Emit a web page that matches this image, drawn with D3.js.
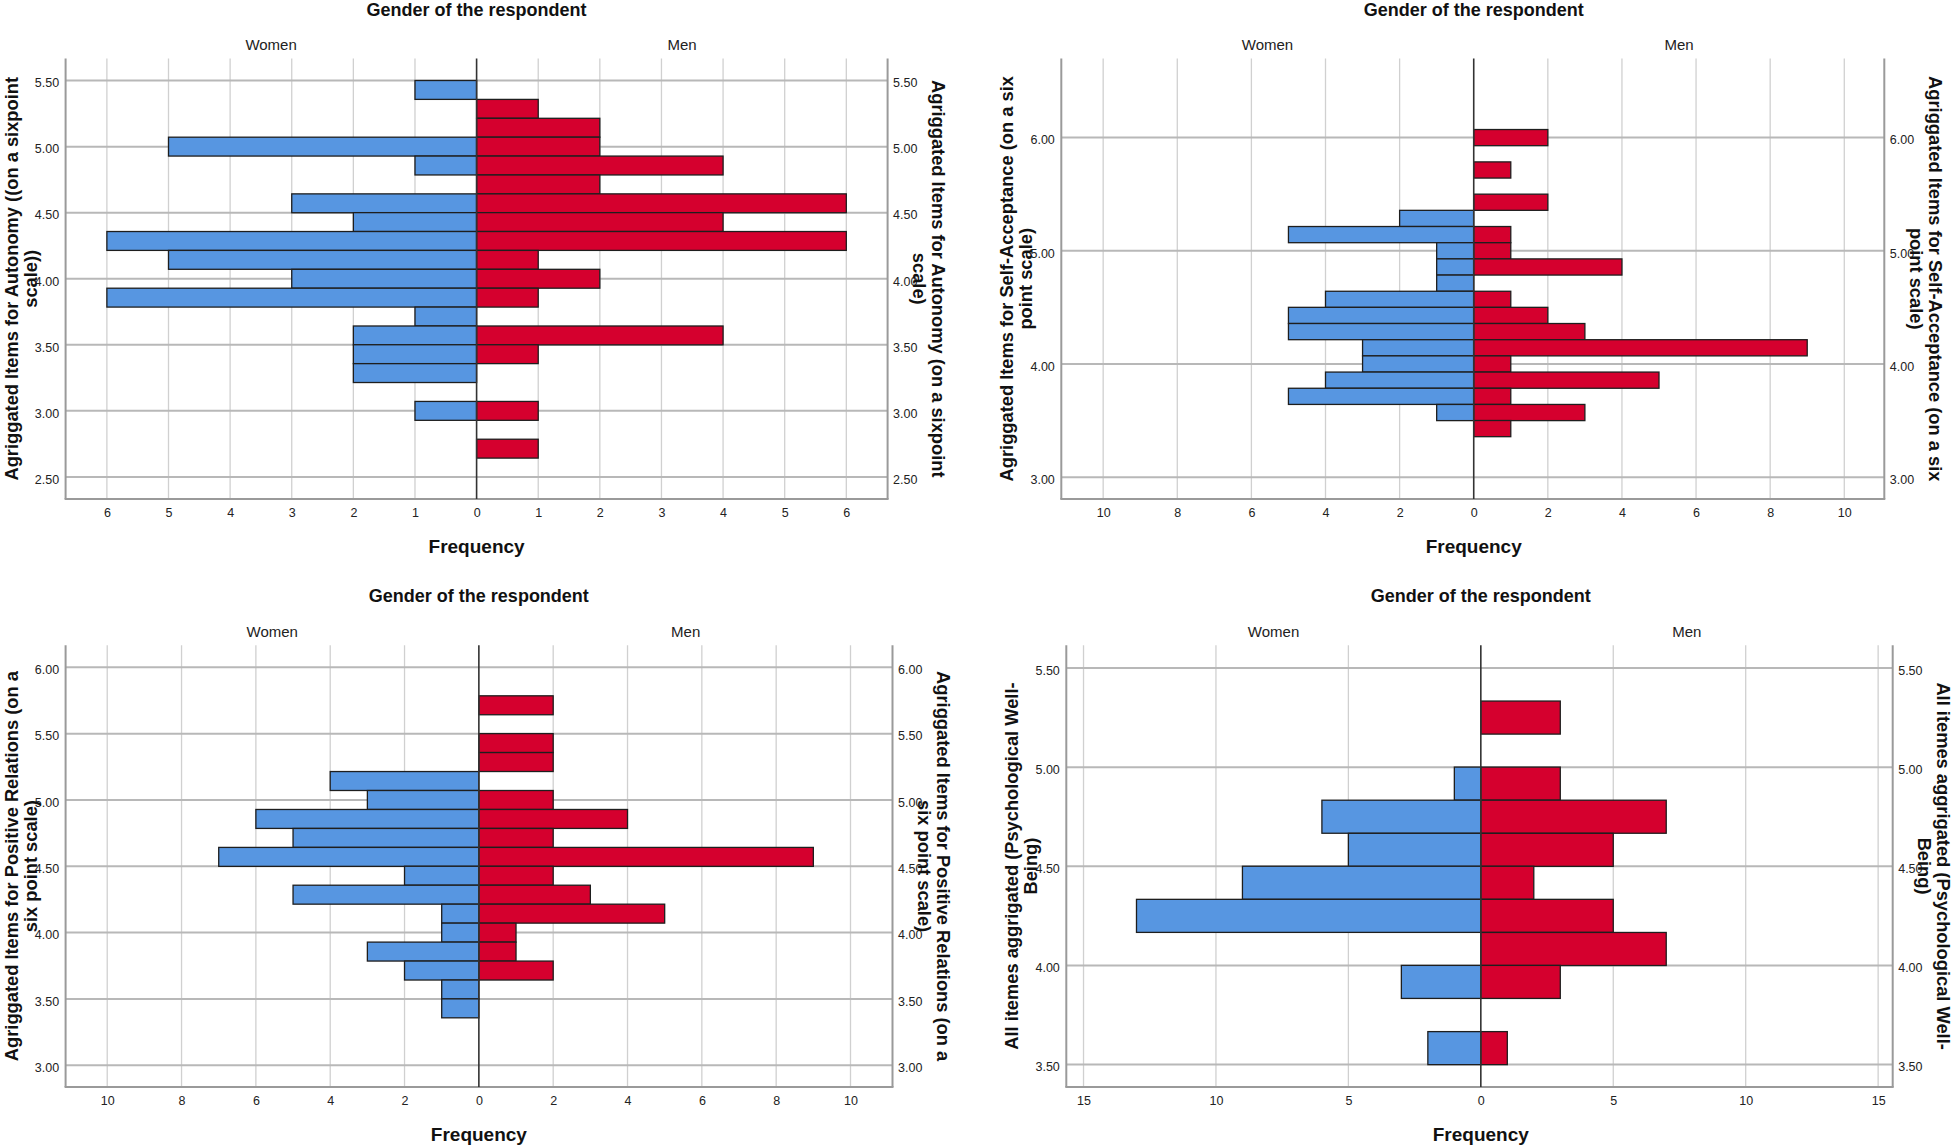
<!DOCTYPE html>
<html>
<head>
<meta charset="utf-8">
<script src="https://cdn.jsdelivr.net/npm/d3@7"></script>
<style>
  html, body { margin: 0; padding: 0; background: #fff; }
  svg { display: block; }
  text { font-family: "Liberation Sans", Arial, Helvetica, sans-serif; }
</style>
</head>
<body>
<svg id="chart" width="1959" height="1148"></svg>
<script>
// ---------------- DATA ----------------
const groupTitle = "Gender of the respondent";
const groupLabels = ["Women", "Men"];
const xAxisTitle = "Frequency";

// Panel 1: Autonomy (bin centres, width 1/7)
const autonomyBins  = [5.429, 5.286, 5.143, 5.000, 4.857, 4.714, 4.571, 4.429, 4.286, 4.143, 4.000, 3.857, 3.714, 3.571, 3.429, 3.286, 3.000, 2.714];
const autonomyWomen = [1, 0, 0, 5, 1, 0, 3, 2, 6, 5, 3, 6, 1, 2, 2, 2, 1, 0];
const autonomyMen   = [0, 1, 2, 2, 4, 2, 6, 4, 6, 1, 2, 1, 0, 4, 1, 0, 1, 1];
const autonomyYTicks = [2.5, 3.0, 3.5, 4.0, 4.5, 5.0, 5.5];
const autonomyXTicks = [0, 1, 2, 3, 4, 5, 6];
const autonomyTitleLeft  = ["Agriggated Items for Autonomy ((on a sixpoint", "scale))"];
const autonomyTitleRight = ["Agriggated Items for Autonomy (on a sixpoint", "scale)"];

// Panel 2: Self-Acceptance (bin centres, width 1/7)
const selfAccBins  = [6.000, 5.714, 5.429, 5.286, 5.143, 5.000, 4.857, 4.714, 4.571, 4.429, 4.286, 4.143, 4.000, 3.857, 3.714, 3.571, 3.429];
const selfAccWomen = [0, 0, 0, 2, 5, 1, 1, 1, 4, 5, 5, 3, 3, 4, 5, 1, 0];
const selfAccMen   = [2, 1, 2, 0, 1, 1, 4, 0, 1, 2, 3, 9, 1, 5, 1, 3, 1];
const selfAccYTicks = [3.0, 4.0, 5.0, 6.0];
const selfAccXTicks = [0, 2, 4, 6, 8, 10];
const selfAccTitle = ["Agriggated Items for Self-Acceptance (on a six", "point scale)"];

// Panel 3: Positive Relations (bin centres, width 1/7)
const posRelBins  = [5.714, 5.429, 5.286, 5.143, 5.000, 4.857, 4.714, 4.571, 4.429, 4.286, 4.143, 4.000, 3.857, 3.714, 3.571, 3.429];
const posRelWomen = [0, 0, 0, 4, 3, 6, 5, 7, 2, 5, 1, 1, 3, 2, 1, 1];
const posRelMen   = [2, 2, 2, 0, 2, 4, 2, 9, 2, 3, 5, 1, 1, 2, 0, 0];
const posRelYTicks = [3.0, 3.5, 4.0, 4.5, 5.0, 5.5, 6.0];
const posRelXTicks = [0, 2, 4, 6, 8, 10];
const posRelTitle = ["Agriggated Items for Positive Relations (on a", "six point scale)"];

// Panel 4: Psychological Well-Being (bin centres, width 1/6)
const pwbBins  = [5.250, 4.917, 4.750, 4.583, 4.417, 4.250, 4.083, 3.917, 3.583];
const pwbWomen = [0, 1, 6, 5, 9, 13, 0, 3, 2];
const pwbMen   = [3, 3, 7, 5, 2, 5, 7, 3, 1];
const pwbYTicks = [3.5, 4.0, 4.5, 5.0, 5.5];
const pwbXTicks = [0, 5, 10, 15];
const pwbTitle = ["All itemes aggrigated (Psychological Well-", "Being)"];

// ---------------- STYLE / LAYOUT ----------------
const COLORS = { women: "#5796E1", men: "#D5002E", stroke: "#1e1e1e",
                 gridV: "#d0d0d0", gridH: "#b8b8b8", frame: "#9a9a9a", zero: "#333", text: "#222" };

const panels = [
  { bins: autonomyBins, women: autonomyWomen, men: autonomyMen, binWidth: 0.142857,
    yTicks: autonomyYTicks, xTicks: autonomyXTicks, titleLeft: autonomyTitleLeft, titleRight: autonomyTitleRight,
    left: 65.6, right: 887.6, top: 58.5, bottom: 499, xMin: -6.67, xMax: 6.67, yDomain: [2.333, 5.667] },
  { bins: selfAccBins, women: selfAccWomen, men: selfAccMen, binWidth: 0.142857,
    yTicks: selfAccYTicks, xTicks: selfAccXTicks, titleLeft: selfAccTitle, titleRight: selfAccTitle,
    left: 1061.3, right: 1884.3, top: 58.5, bottom: 499, xMin: -11.13, xMax: 11.08, yDomain: [2.807, 6.699] },
  { bins: posRelBins, women: posRelWomen, men: posRelMen, binWidth: 0.142857,
    yTicks: posRelYTicks, xTicks: posRelXTicks, titleLeft: posRelTitle, titleRight: posRelTitle,
    left: 65.6, right: 892.5, top: 645.2, bottom: 1087, xMin: -11.12, xMax: 11.13, yDomain: [2.836, 6.167] },
  { bins: pwbBins, women: pwbWomen, men: pwbMen, binWidth: 0.166667,
    yTicks: pwbYTicks, xTicks: pwbXTicks, titleLeft: pwbTitle, titleRight: pwbTitle,
    left: 1066.3, right: 1892.7, top: 645.2, bottom: 1087, xMin: -15.65, xMax: 15.55, yDomain: [3.387, 5.615] }
];

const svg = d3.select("#chart");

function drawPanel(p) {
  const g = svg.append("g");
  const x = d3.scaleLinear().domain([p.xMin, p.xMax]).range([p.left, p.right]);
  const y = d3.scaleLinear().domain(p.yDomain).range([p.bottom, p.top]);
  const x0 = x(0);
  const allX = Array.from(new Set(p.xTicks.flatMap(t => [-t, t])));
  const gridXs = allX.filter(t => t !== 0);

  // vertical gridlines
  g.append("g").selectAll("line").data(gridXs).join("line")
    .attr("x1", d => x(d)).attr("x2", d => x(d))
    .attr("y1", p.top).attr("y2", p.bottom)
    .attr("stroke", COLORS.gridV).attr("stroke-width", 1.3);

  // horizontal gridlines
  g.append("g").selectAll("line").data(p.yTicks).join("line")
    .attr("x1", p.left).attr("x2", p.right)
    .attr("y1", d => y(d)).attr("y2", d => y(d))
    .attr("stroke", COLORS.gridH).attr("stroke-width", 2);

  // frame: left, right, bottom
  const frame = g.append("g").attr("stroke", COLORS.frame).attr("stroke-width", 2);
  frame.append("line").attr("x1", p.left).attr("x2", p.left).attr("y1", p.top).attr("y2", p.bottom);
  frame.append("line").attr("x1", p.right).attr("x2", p.right).attr("y1", p.top).attr("y2", p.bottom);
  frame.append("line").attr("x1", p.left - 1).attr("x2", p.right + 1).attr("y1", p.bottom).attr("y2", p.bottom);

  // bars
  const rows = p.bins.map((b, i) => ({ b, w: p.women[i], m: p.men[i] }));
  const half = p.binWidth / 2;
  g.append("g").selectAll("rect").data(rows.filter(r => r.w > 0)).join("rect")
    .attr("x", d => x(-d.w)).attr("width", d => x0 - x(-d.w))
    .attr("y", d => y(d.b + half)).attr("height", d => y(d.b - half) - y(d.b + half))
    .attr("fill", COLORS.women).attr("stroke", COLORS.stroke).attr("stroke-width", 1.3);
  g.append("g").selectAll("rect").data(rows.filter(r => r.m > 0)).join("rect")
    .attr("x", x0).attr("width", d => x(d.m) - x0)
    .attr("y", d => y(d.b + half)).attr("height", d => y(d.b - half) - y(d.b + half))
    .attr("fill", COLORS.men).attr("stroke", COLORS.stroke).attr("stroke-width", 1.3);

  // zero line
  g.append("line").attr("x1", x0).attr("x2", x0).attr("y1", p.top).attr("y2", p.bottom)
    .attr("stroke", COLORS.zero).attr("stroke-width", 1.6);

  // x axis labels
  const xa = g.append("g").attr("transform", `translate(0,${p.bottom})`)
    .call(d3.axisBottom(x).tickValues(allX.sort((a, b) => a - b)).tickFormat(d => Math.abs(d)).tickSize(0).tickPadding(9.5));
  xa.select(".domain").remove();
  xa.selectAll("text").attr("font-size", 12.5).attr("fill", COLORS.text)
    .attr("font-family", "'Liberation Sans', Arial, sans-serif");

  // y axis labels (left and right)
  const fmt = d3.format(".2f");
  const yl = g.append("g").attr("transform", `translate(${p.left},0)`)
    .call(d3.axisLeft(y).tickValues(p.yTicks).tickFormat(fmt).tickSize(0).tickPadding(6.5));
  yl.select(".domain").remove();
  yl.selectAll("text").attr("font-size", 12.5).attr("fill", COLORS.text).attr("dy", "0.5em")
    .attr("font-family", "'Liberation Sans', Arial, sans-serif");
  const yr = g.append("g").attr("transform", `translate(${p.right},0)`)
    .call(d3.axisRight(y).tickValues(p.yTicks).tickFormat(fmt).tickSize(0).tickPadding(5.5));
  yr.select(".domain").remove();
  yr.selectAll("text").attr("font-size", 12.5).attr("fill", COLORS.text).attr("dy", "0.5em")
    .attr("font-family", "'Liberation Sans', Arial, sans-serif");

  // group title and labels
  g.append("text").attr("x", x0).attr("y", p.top - 43).attr("text-anchor", "middle")
    .attr("font-size", 18).attr("font-weight", "bold").attr("fill", "#111").text(groupTitle);
  g.append("text").attr("x", (p.left + x0) / 2).attr("y", p.top - 8.5).attr("text-anchor", "middle")
    .attr("font-size", 15).attr("fill", COLORS.text).text(groupLabels[0]);
  g.append("text").attr("x", (x0 + p.right) / 2).attr("y", p.top - 8.5).attr("text-anchor", "middle")
    .attr("font-size", 15).attr("fill", COLORS.text).text(groupLabels[1]);

  // x axis title
  g.append("text").attr("x", x0).attr("y", p.bottom + 53.5).attr("text-anchor", "middle")
    .attr("font-size", 19).attr("font-weight", "bold").attr("fill", "#111").text(xAxisTitle);

  // y titles
  const cy = (p.top + p.bottom) / 2;
  const lt = g.append("text").attr("transform", `translate(${p.left - 48},${cy}) rotate(-90)`)
    .attr("text-anchor", "middle").attr("font-size", 18.3).attr("font-weight", "bold").attr("fill", "#111");
  p.titleLeft.forEach((s, i) => lt.append("tspan").attr("x", 0).attr("y", i * 19).text(s));
  const rt = g.append("text").attr("transform", `translate(${p.right + 44.5},${cy}) rotate(90)`)
    .attr("text-anchor", "middle").attr("font-size", 18.3).attr("font-weight", "bold").attr("fill", "#111");
  p.titleRight.forEach((s, i) => rt.append("tspan").attr("x", 0).attr("y", i * 19).text(s));
}

panels.forEach(drawPanel);
</script>
</body>
</html>
